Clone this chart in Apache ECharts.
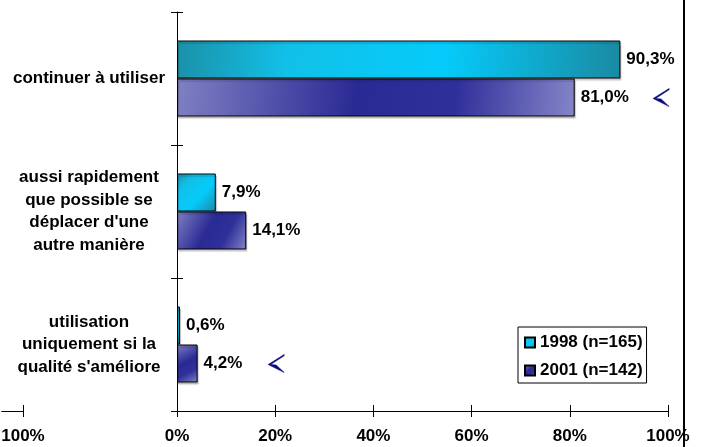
<!DOCTYPE html>
<html>
<head>
<meta charset="utf-8">
<script src="https://cdn.jsdelivr.net/npm/echarts@6/dist/echarts.min.js"></script>
<style>
html,body{margin:0;padding:0;background:#fff;}
#c{width:702px;height:447px;}
</style>
</head>
<body>
<div id="c"></div>
<script>
const categories = [
  'continuer à utiliser',
  'aussi rapidement\nque possible se\ndéplacer d\'une\nautre manière',
  'utilisation\nuniquement si la\nqualité s\'améliore'
];
const seriesNames = ['1998 (n=165)', '2001 (n=142)'];
const values1998 = [90.3, 7.9, 0.6];
const values2001 = [81.0, 14.1, 4.2];
const xMin = 0, xMax = 100, xStep = 20;
const leftAxisMin = 0, leftAxisMax = 100;
const leftAxisTicks = [100];
const arrowMarks = [[98.6, 0], [20.2, 2]];

const FONT = '"Liberation Sans", Arial, sans-serif';
const FS = 17;
const fmtPct = v => v.toFixed(1).replace('.', ',') + '%';

const chart = echarts.init(document.getElementById('c'), null, {renderer: 'canvas'});

const grad1998 = new echarts.graphic.LinearGradient(0, 0, 1, 1, [
  {offset: 0, color: '#1b90a8'},
  {offset: 0.25, color: '#12c0e8'},
  {offset: 0.6, color: '#05cbfb'},
  {offset: 1, color: '#1a8aa2'}
]);
const grad2001 = new echarts.graphic.LinearGradient(0, 0, 1, 1, [
  {offset: 0, color: '#8080c4'},
  {offset: 0.45, color: '#2a2a94'},
  {offset: 0.7, color: '#30309a'},
  {offset: 1, color: '#8585c8'}
]);

const axisLine = {show: true, lineStyle: {color: '#000', width: 1}};
const arrowPath = 'path://M16,0 L0,10 L16,18 L8,10.5 L2.5,10 L16,1.2 Z';
const barShadow = {shadowColor: 'rgba(0,0,0,0.22)', shadowOffsetX: 1, shadowOffsetY: 2, shadowBlur: 1};

const option = {
  backgroundColor: '#fff',
  animation: false,
  textStyle: {fontFamily: FONT},
  grid: [
    {left: 177, right: 34, top: 12, bottom: 36},
    {left: 0, width: 23, top: 12, bottom: 36}
  ],
  xAxis: [
    {
      gridIndex: 0, type: 'value', position: 'bottom', min: xMin, max: xMax, interval: xStep,
      axisLine: axisLine,
      axisTick: {show: true, length: 6, lineStyle: {color: '#000'}},
      splitLine: {show: false},
      axisLabel: {formatter: v => v + '%', color: '#000', fontWeight: 'bold', fontSize: FS, fontFamily: FONT, margin: 17}
    },
    {
      gridIndex: 1, type: 'value', position: 'bottom', min: leftAxisMin, max: leftAxisMax, interval: 100,
      axisLine: axisLine,
      axisTick: {show: true, length: 6, customValues: leftAxisTicks, lineStyle: {color: '#000'}},
      splitLine: {show: false},
      axisLabel: {customValues: leftAxisTicks, formatter: v => v + '%', color: '#000', fontWeight: 'bold', fontSize: FS, fontFamily: FONT, margin: 17, showMaxLabel: true}
    },
    {
      gridIndex: 0, type: 'value', position: 'bottom', offset: 0, min: xMin, max: xMax, interval: xStep,
      axisLine: {show: false},
      axisTick: {show: true, inside: true, length: 6, lineStyle: {color: '#000'}},
      splitLine: {show: false},
      axisLabel: {show: false}
    },
    {
      gridIndex: 1, type: 'value', position: 'bottom', offset: 0, min: leftAxisMin, max: leftAxisMax, interval: 100,
      axisLine: {show: false},
      axisTick: {show: true, inside: true, length: 6, customValues: leftAxisTicks, lineStyle: {color: '#000'}},
      splitLine: {show: false},
      axisLabel: {show: false}
    }
  ],
  yAxis: [
    {
      gridIndex: 0, type: 'category', inverse: true, data: categories, position: 'left',
      axisLine: axisLine,
      axisTick: {show: true, length: 6, lineStyle: {color: '#000'}},
      axisLabel: {color: '#000', fontWeight: 'bold', fontSize: FS, fontFamily: FONT, align: 'center', margin: 88, lineHeight: 22.5}
    },
    {
      gridIndex: 1, type: 'category', inverse: true, data: categories, show: false
    },
    {
      gridIndex: 0, type: 'category', inverse: true, data: categories, position: 'left', offset: 0,
      axisLine: {show: false},
      axisTick: {show: true, inside: true, length: 6, lineStyle: {color: '#000'}},
      axisLabel: {show: false}
    }
  ],
  legend: {
    orient: 'vertical', left: 518, top: 327,
    padding: [7, 4, 4, 6], itemGap: 11, itemWidth: 10, itemHeight: 10,
    backgroundColor: '#fff', borderColor: '#000', borderWidth: 1,
    icon: 'rect',
    textStyle: {color: '#000', fontWeight: 'bold', fontSize: FS, fontFamily: FONT},
    data: seriesNames
  },
  series: [
    {
      name: seriesNames[0], type: 'bar', xAxisIndex: 0, yAxisIndex: 0,
      data: values1998, barWidth: 38, barGap: '0%',
      itemStyle: Object.assign({color: grad1998, borderColor: '#000', borderWidth: 1}, barShadow),
      label: {show: true, position: 'right', distance: 6, formatter: p => fmtPct(p.value), color: '#000', fontWeight: 'bold', fontSize: FS, fontFamily: FONT}
    },
    {
      name: seriesNames[1], type: 'bar', xAxisIndex: 0, yAxisIndex: 0,
      data: values2001, barWidth: 38, barGap: '0%',
      itemStyle: Object.assign({color: grad2001, borderColor: '#000', borderWidth: 1}, barShadow),
      label: {show: true, position: 'right', distance: 6, formatter: p => fmtPct(p.value), color: '#000', fontWeight: 'bold', fontSize: FS, fontFamily: FONT},
      markPoint: {
        symbol: arrowPath, symbolSize: [16, 18], symbolOffset: [0, 0],
        itemStyle: {color: '#0a0a7a', borderColor: '#0a0a7a', borderWidth: 0.6},
        label: {show: false},
        data: arrowMarks.map(c => ({coord: c}))
      }
    }
  ],
  graphic: [
    {type: 'line', shape: {x1: 684, y1: 0, x2: 684, y2: 447}, style: {stroke: '#000', lineWidth: 2}, silent: true}
  ]
};
chart.setOption(option);
</script>
</body>
</html>
